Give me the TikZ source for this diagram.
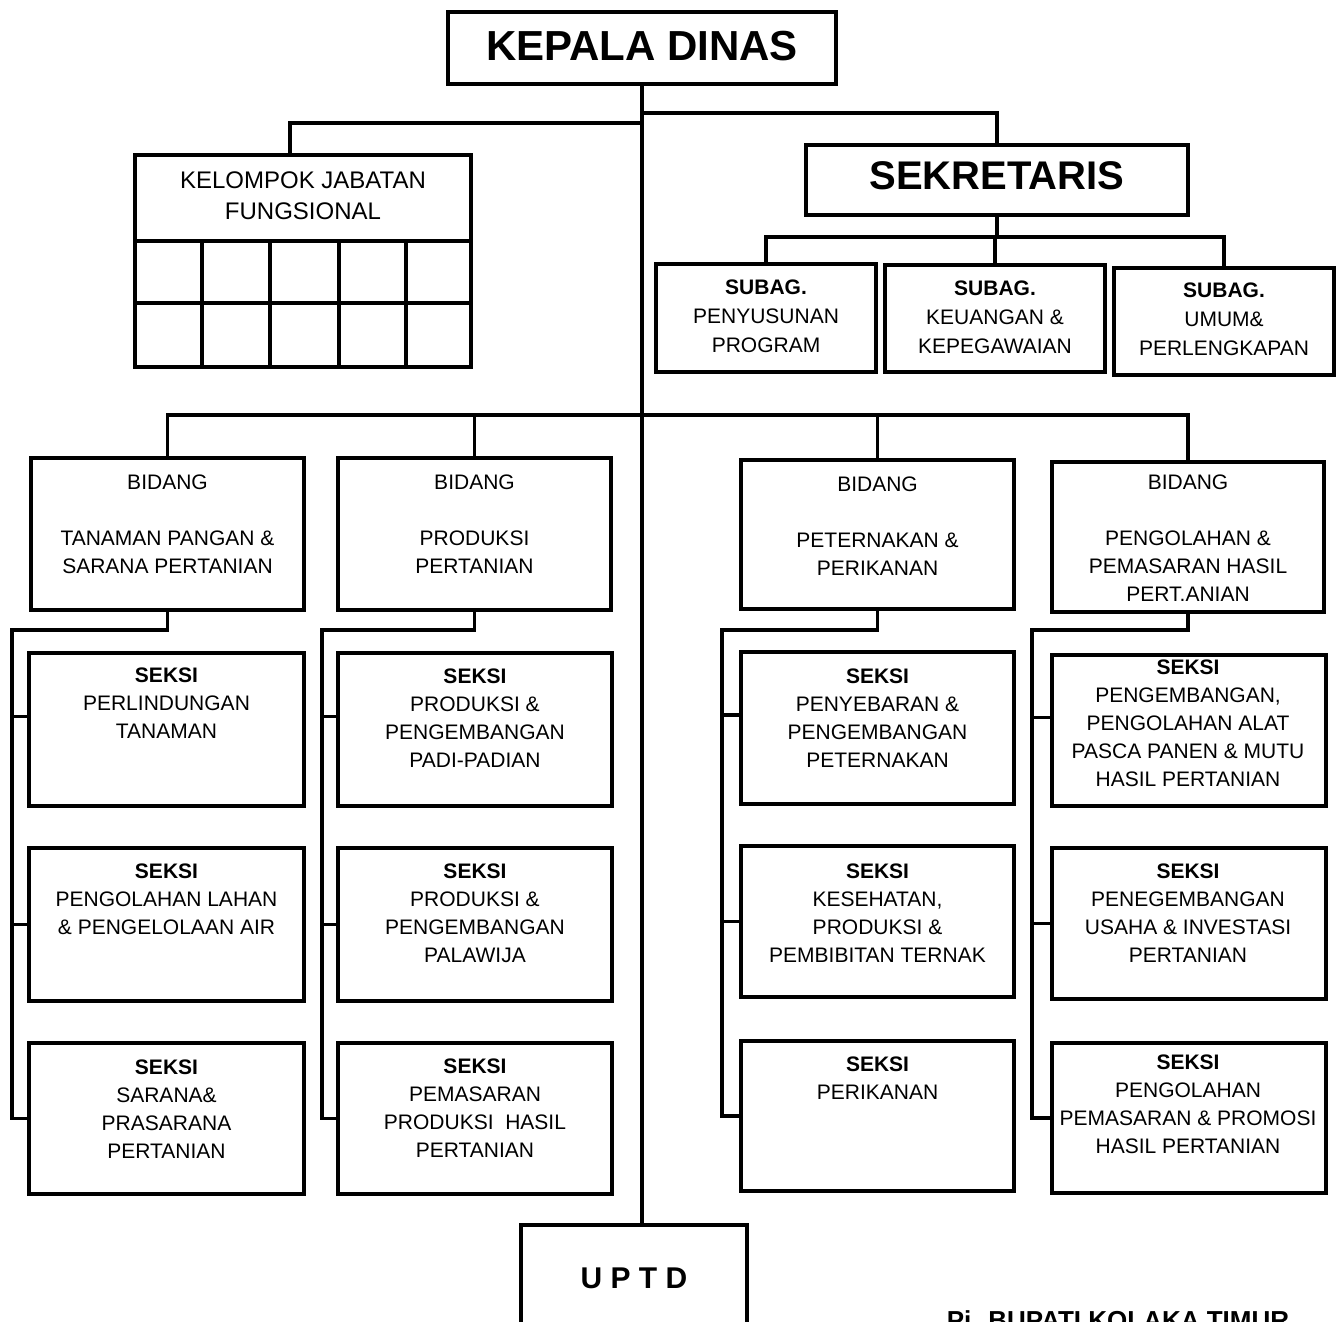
\documentclass[tikz,border=0pt]{standalone}
\usepackage{fontspec}
\setmainfont{Liberation Sans}
\usetikzlibrary{fit}
\begin{document}
\begin{tikzpicture}[x=0.5pt,y=-0.5pt,
  box/.style={draw,line width=1.8pt,inner sep=0pt,rectangle},
  wire/.style={line width=1.6pt},
  lbl/.style={inner sep=0pt,align=center,anchor=north,font=\fontsize{10.5}{14}\selectfont},
  sublbl/.style={lbl,font=\fontsize{10.5}{14.5}\selectfont},
]
\clip (0,0) rectangle (1337,1321);
\fill[white] (0,0) rectangle (1337,1321);

% ---- head
\node[box,fit={(448,12)(836,84)}] (kd) {};
\node[inner sep=0pt,font=\fontsize{21}{25}\selectfont\bfseries] (kdt) at (642,46) {KEPALA DINAS};

% ---- functional group with its grid
\node[box,fit={(135,155)(471,367)}] (kjf) {};
\node[lbl,font=\fontsize{12}{15.5}\selectfont] (kjft) at (303,171.5) {KELOMPOK JABATAN\\FUNGSIONAL};
\draw[line width=1.8pt] (kjf.west |- 0,241) -- (kjf.east |- 0,241)
                        (kjf.west |- 0,303) -- (kjf.east |- 0,303);
\foreach \gx in {202,270,339,406}
  \draw[line width=1.8pt] (\gx,241) -- (\gx,367);

% ---- secretary and sub-sections
\node[box,fit={(806,145)(1188,215)}] (sek) {};
\node[inner sep=0pt,font=\fontsize{20}{24}\selectfont\bfseries] (sekt) at (997,176) {SEKRETARIS};

\node[box,fit={(656,264)(876,372)}] (sa1) {};
\node[box,fit={(885,265)(1105,372)}] (sa2) {};
\node[box,fit={(1114,268)(1334,375)}] (sa3) {};
\node[sublbl] (sa1t) at (766,279.5) {\textbf{SUBAG.}\\PENYUSUNAN\\PROGRAM};
\node[sublbl] (sa2t) at (995,280.5) {\textbf{SUBAG.}\\KEUANGAN \&\\KEPEGAWAIAN};
\node[sublbl] (sa3t) at (1224,282.5) {\textbf{SUBAG.}\\UMUM\&\\PERLENGKAPAN};

% ---- divisions
\node[box,fit={(31,458)(304,610)}] (b1) {};
\node[box,fit={(338,458)(611,610)}] (b2) {};
\node[box,fit={(741,460)(1014,609)}] (b3) {};
\node[box,fit={(1052,462)(1324,612)}] (b4) {};
\node[lbl] (b1t) at (167.5,474.5) {BIDANG\\[14pt]TANAMAN PANGAN \&\\SARANA PERTANIAN};
\node[lbl] (b2t) at (474.5,474.5) {BIDANG\\[14pt]PRODUKSI\\PERTANIAN};
\node[lbl] (b3t) at (877.5,476.5) {BIDANG\\[14pt]PETERNAKAN \&\\PERIKANAN};
\node[lbl] (b4t) at (1188,474.5) {BIDANG\\[14pt]PENGOLAHAN \&\\PEMASARAN HASIL\\PERT.ANIAN};

% ---- sections, column 1
\node[box,fit={(29,653)(304,806)}] (s11) {};
\node[box,fit={(29,848)(304,1001)}] (s12) {};
\node[box,fit={(29,1043)(304,1194)}] (s13) {};
\node[lbl] (s11t) at (166.5,667.5) {\textbf{SEKSI}\\PERLINDUNGAN\\TANAMAN};
\node[lbl] (s12t) at (166.5,863.5) {\textbf{SEKSI}\\PENGOLAHAN LAHAN\\\& PENGELOLAAN AIR};
\node[lbl] (s13t) at (166.5,1059.5) {\textbf{SEKSI}\\SARANA\&\\PRASARANA\\PERTANIAN};

% ---- sections, column 2
\node[box,fit={(338,653)(612,806)}] (s21) {};
\node[box,fit={(338,848)(612,1001)}] (s22) {};
\node[box,fit={(338,1043)(612,1194)}] (s23) {};
\node[lbl] (s21t) at (475,668.5) {\textbf{SEKSI}\\PRODUKSI \&\\PENGEMBANGAN\\PADI-PADIAN};
\node[lbl] (s22t) at (475,863.5) {\textbf{SEKSI}\\PRODUKSI \&\\PENGEMBANGAN\\PALAWIJA};
\node[lbl] (s23t) at (475,1058.5) {\textbf{SEKSI}\\PEMASARAN\\PRODUKSI~ HASIL\\PERTANIAN};

% ---- sections, column 3
\node[box,fit={(741,652)(1014,804)}] (s31) {};
\node[box,fit={(741,846)(1014,997)}] (s32) {};
\node[box,fit={(741,1041)(1014,1191)}] (s33) {};
\node[lbl] (s31t) at (877.5,668.5) {\textbf{SEKSI}\\PENYEBARAN \&\\PENGEMBANGAN\\PETERNAKAN};
\node[lbl] (s32t) at (877.5,863.5) {\textbf{SEKSI}\\KESEHATAN,\\PRODUKSI \&\\PEMBIBITAN TERNAK};
\node[lbl] (s33t) at (877.5,1056.5) {\textbf{SEKSI}\\PERIKANAN};

% ---- sections, column 4
\node[box,fit={(1052,655)(1326,806)}] (s41) {};
\node[box,fit={(1052,848)(1326,999)}] (s42) {};
\node[box,fit={(1052,1043)(1326,1193)}] (s43) {};
\node[lbl] (s41t) at (1188,659.5) {\textbf{SEKSI}\\PENGEMBANGAN,\\PENGOLAHAN ALAT\\PASCA PANEN \& MUTU\\HASIL PERTANIAN};
\node[lbl] (s42t) at (1188,863.5) {\textbf{SEKSI}\\PENEGEMBANGAN\\USAHA \& INVESTASI\\PERTANIAN};
\node[lbl] (s43t) at (1188,1054.5) {\textbf{SEKSI}\\PENGOLAHAN\\PEMASARAN \& PROMOSI\\HASIL PERTANIAN};

% ---- technical unit
\node[box,fit={(521,1225)(747,1345)}] (up) {};
\node[inner sep=0pt,font=\fontsize{15}{18}\selectfont\bfseries] (upt) at (634,1278) {U P T D};

% ---- signature line
\node[inner sep=0pt,anchor=base,font=\fontsize{13}{15}\selectfont\bfseries] (pj) at (1118,1329) {Pj. BUPATI KOLAKA TIMUR};

% ---- connectors
\draw[wire] (kd.south) -- (kd.south |- up.north);
\coordinate (jl) at (642,123);
\coordinate (jr) at (642,113);
\draw[wire] (jl) -| ([xshift=-6.5pt]kjf.north);
\draw[wire] (jr) -| (sek.north);

\coordinate (sb) at (993,237);
\draw[wire] (sek.south) -- (sek.south |- sb);
\draw[wire] (sa1.north) |- (sb) -| (sa3.north);
\draw[wire] (sa2.north) -- (sa2.north |- sb);

\coordinate (mb) at (642,415);
\draw[wire] (b1.north) |- (mb) -| (b4.north);
\draw[wire] (b2.north) -- (b2.north |- mb);
\draw[wire] (b3.north) -- (b3.north |- mb);

% column buses
\coordinate (k1) at (12,630);
\coordinate (k2) at (322,630);
\coordinate (k3) at (722,630);
\coordinate (k4) at (1032,630);
\foreach \c/\b in {1/b1,2/b2,3/b3,4/b4}{
  \draw[wire] (\b.south) |- (k\c) |- (s\c3.west);
  \path ([yshift=6.5pt]s\c1.west) coordinate (t\c);
  \draw[wire] (t\c) -- (t\c -| k\c);
  \draw[wire] (s\c2.west) -- (s\c2.west -| k\c);
}
\end{tikzpicture}
\end{document}
